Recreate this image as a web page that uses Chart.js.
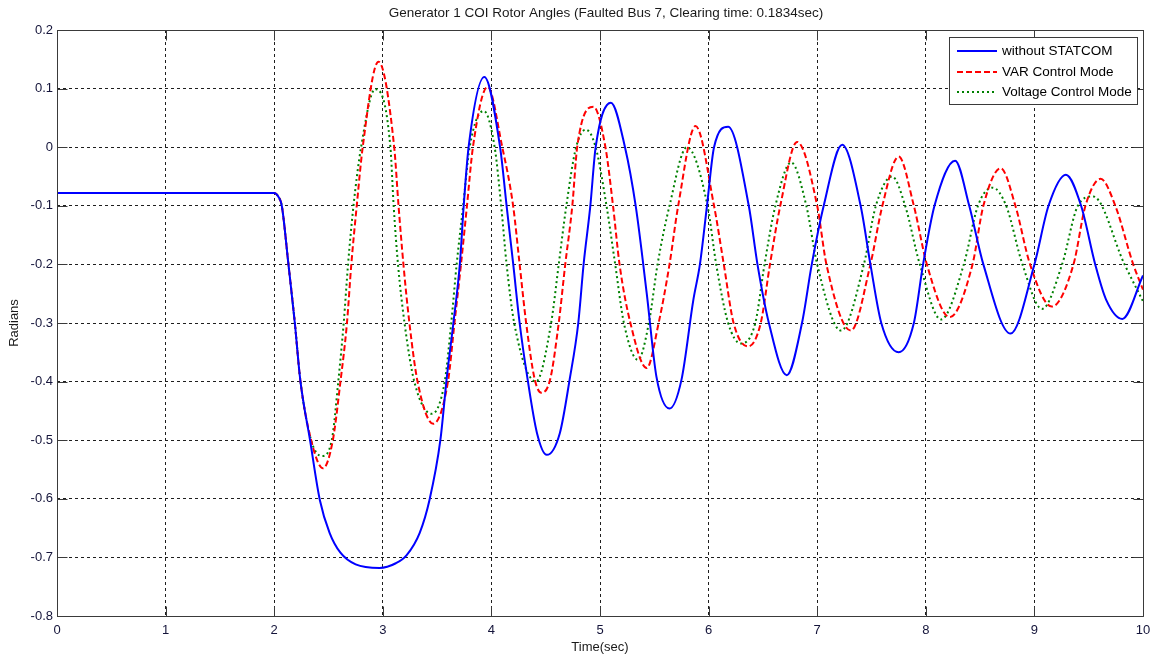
<!DOCTYPE html>
<html>
<head>
<meta charset="utf-8">
<script src="https://cdn.jsdelivr.net/npm/chart.js@4.4.1/dist/chart.umd.min.js"></script>
<style>
  html, body { margin: 0; padding: 0; background: #ffffff; }
  #wrap { width: 1158px; height: 661px; }
</style>
</head>
<body>
<div id="wrap"><canvas id="c" width="1158" height="661"></canvas></div>
<script>
// ---------- data ----------
const chartTitle = 'Generator 1 COI Rotor Angles (Faulted Bus 7, Clearing time: 0.1834sec)';
const xAxisTitle = 'Time(sec)';
const yAxisTitle = 'Radians';
const seriesNames = ['without STATCOM', 'VAR Control Mode', 'Voltage Control Mode'];
const xTickValues = [0, 1, 2, 3, 4, 5, 6, 7, 8, 9, 10];
const yTickValues = [0.2, 0.1, 0, -0.1, -0.2, -0.3, -0.4, -0.5, -0.6, -0.7, -0.8];

const timeNoStatcom = [0, 2.0, 2.04, 2.07, 2.13, 2.19, 2.24, 2.33, 2.42, 2.51, 2.61, 2.75, 2.97, 3.12, 3.22,
  3.34, 3.43, 3.53, 3.59, 3.65, 3.71, 3.745, 3.79, 3.935, 4.08, 4.14, 4.20, 4.26, 4.33, 4.42, 4.51,
  4.63, 4.72, 4.80, 4.85, 4.91, 4.96, 5.10, 5.23, 5.33, 5.43, 5.52, 5.64, 5.75, 5.86, 5.92, 5.985,
  6.05, 6.18, 6.37, 6.45, 6.555, 6.72, 6.86, 6.95, 7.06, 7.23, 7.40, 7.49, 7.59, 7.75, 7.89, 7.975,
  8.08, 8.27, 8.40, 8.53, 8.78, 9.0, 9.13, 9.29, 9.43, 9.56, 9.66, 9.81, 10];
const angleNoStatcom = [-0.078, -0.078, -0.085, -0.10, -0.198, -0.30, -0.397, -0.50, -0.602, -0.658, -0.692, -0.712, -0.718, -0.71, -0.696,
  -0.658, -0.602, -0.50, -0.392, -0.30, -0.198, -0.10, 0, 0.120, 0, -0.10, -0.198, -0.30, -0.392, -0.488, -0.525,
  -0.488, -0.397, -0.30, -0.198, -0.102, 0, 0.076, 0, -0.102, -0.249, -0.392, -0.446, -0.397, -0.26, -0.20, -0.10,
  0, 0.035, -0.10, -0.20, -0.30, -0.389, -0.30, -0.20, -0.10, 0.004, -0.10, -0.20, -0.30, -0.350, -0.30, -0.20,
  -0.10, -0.023, -0.10, -0.20, -0.318, -0.20, -0.10, -0.047, -0.10, -0.20, -0.26, -0.293, -0.219];

const timeVarMode = [0, 2.0, 2.04, 2.07, 2.13, 2.19, 2.24, 2.34, 2.45, 2.54, 2.61, 2.67, 2.71, 2.76, 2.815,
  2.96, 3.105, 3.145, 3.19, 3.245, 3.32, 3.465, 3.60, 3.66, 3.72, 3.775, 3.83, 3.965, 4.10, 4.20, 4.26,
  4.32, 4.40, 4.46, 4.54, 4.62, 4.68, 4.745, 4.79, 4.94, 5.05, 5.12, 5.18, 5.28, 5.43, 5.54, 5.64,
  5.72, 5.88, 6.05, 6.14, 6.23, 6.365, 6.48, 6.565, 6.66, 6.815, 7.0, 7.085, 7.31, 7.49, 7.60, 7.75,
  7.89, 8.01, 8.22, 8.43, 8.53, 8.69, 8.825, 8.96, 9.16, 9.36, 9.47, 9.61, 9.745, 9.91, 10];
const angleVarMode = [-0.078, -0.078, -0.085, -0.10, -0.198, -0.30, -0.397, -0.50, -0.548, -0.50, -0.40, -0.30, -0.20, -0.10, 0,
  0.146, 0, -0.10, -0.20, -0.30, -0.40, -0.472, -0.40, -0.30, -0.20, -0.10, 0, 0.103, 0, -0.10, -0.20,
  -0.30, -0.397, -0.419, -0.397, -0.30, -0.20, -0.10, 0, 0.069, 0, -0.10, -0.20, -0.30, -0.377, -0.30, -0.20,
  -0.10, 0.036, -0.10, -0.20, -0.30, -0.340, -0.30, -0.20, -0.10, 0.009, -0.10, -0.20, -0.313, -0.20, -0.10, -0.016,
  -0.10, -0.20, -0.290, -0.20, -0.10, -0.036, -0.10, -0.20, -0.272, -0.20, -0.10, -0.054, -0.10, -0.20, -0.243];

const timeVoltageMode = [0, 2.0, 2.04, 2.07, 2.13, 2.19, 2.24, 2.34, 2.44, 2.53, 2.59, 2.64, 2.68, 2.73, 2.80,
  2.93, 3.07, 3.10, 3.14, 3.20, 3.29, 3.45, 3.57, 3.63, 3.68, 3.74, 3.80, 3.93, 4.03, 4.09, 4.14,
  4.21, 4.41, 4.55, 4.62, 4.69, 4.78, 4.87, 4.96, 5.06, 5.14, 5.22, 5.35, 5.45, 5.53, 5.64, 5.80,
  5.99, 6.07, 6.18, 6.295, 6.43, 6.515, 6.615, 6.76, 6.90, 7.0, 7.22, 7.43, 7.54, 7.69, 7.81, 7.945,
  8.14, 8.35, 8.48, 8.615, 8.74, 8.89, 9.07, 9.255, 9.40, 9.54, 9.83, 10];
const angleVoltageMode = [-0.078, -0.078, -0.085, -0.10, -0.198, -0.30, -0.397, -0.50, -0.527, -0.50, -0.40, -0.30, -0.20, -0.10, 0,
  0.099, 0, -0.10, -0.20, -0.30, -0.40, -0.455, -0.40, -0.30, -0.20, -0.10, 0, 0.062, 0, -0.10, -0.20,
  -0.30, -0.400, -0.30, -0.20, -0.10, 0, 0.030, 0, -0.10, -0.20, -0.30, -0.363, -0.30, -0.20, -0.10, 0.0,
  -0.10, -0.20, -0.30, -0.335, -0.30, -0.20, -0.10, -0.026, -0.10, -0.20, -0.313, -0.20, -0.10, -0.050, -0.10, -0.20,
  -0.294, -0.20, -0.10, -0.069, -0.10, -0.20, -0.276, -0.20, -0.10, -0.084, -0.20, -0.263];

// ---------- helpers ----------
function toPoints(ts, vs) { return ts.map((t, i) => ({ x: t, y: vs[i] })); }
const FONT = "'Liberation Sans', Arial, Helvetica, sans-serif";
const TICK_COLOR = '#14143a';

const titlePlugin = {
  id: 'matlabTitle',
  afterDraw(chart) {
    const { ctx } = chart;
    ctx.save();
    ctx.fillStyle = '#1a1a1a';
    ctx.font = '13.5px ' + FONT;
    ctx.textAlign = 'center';
    ctx.textBaseline = 'middle';
    ctx.fillText(chartTitle, 606, 13);
    ctx.restore();
  }
};

const framePlugin = {
  id: 'matlabFrame',
  afterDatasetsDraw(chart) {
    const { ctx, chartArea: a, scales } = chart;
    const xs = scales.x, ys = scales.y;
    ctx.save();
    ctx.setLineDash([]);
    ctx.strokeStyle = '#3a3a3a';
    ctx.lineWidth = 1;
    const L = Math.round(a.left) + 0.5, R = Math.round(a.right) + 0.5;
    const T = Math.round(a.top) + 0.5, B = Math.round(a.bottom) + 0.5;
    ctx.beginPath();
    ctx.rect(L, T, R - L, B - T);
    const len = 10;
    xTickValues.forEach(v => {
      const px = Math.round(xs.getPixelForValue(v)) + 0.5;
      ctx.moveTo(px, B); ctx.lineTo(px, B - len);
      ctx.moveTo(px, T); ctx.lineTo(px, T + len);
    });
    yTickValues.forEach(v => {
      const py = Math.round(ys.getPixelForValue(v)) + 0.5;
      ctx.moveTo(L, py); ctx.lineTo(L + len, py);
      ctx.moveTo(R, py); ctx.lineTo(R - len, py);
    });
    ctx.stroke();
    ctx.restore();
  }
};

const legendPlugin = {
  id: 'matlabLegend',
  afterDraw(chart) {
    const { ctx } = chart;
    const bx = 949.5, by = 37.5, bw = 188, bh = 67;
    ctx.save();
    ctx.fillStyle = '#ffffff';
    ctx.fillRect(bx, by, bw, bh);
    ctx.strokeStyle = '#3a3a3a';
    ctx.lineWidth = 1;
    ctx.setLineDash([]);
    ctx.strokeRect(bx, by, bw, bh);
    const rows = [51, 72, 92];
    chart.data.datasets.forEach((ds, i) => {
      const y = rows[i];
      ctx.strokeStyle = ds.borderColor;
      ctx.lineWidth = ds.borderWidth;
      ctx.setLineDash(ds.borderDash || []);
      ctx.beginPath();
      ctx.moveTo(957, y); ctx.lineTo(997, y);
      ctx.stroke();
      ctx.setLineDash([]);
      ctx.fillStyle = '#000000';
      ctx.font = '13.5px ' + FONT;
      ctx.textBaseline = 'middle';
      ctx.textAlign = 'left';
      ctx.fillText(ds.label, 1002, y);
    });
    ctx.restore();
  }
};

const commonLine = { pointRadius: 0, pointHoverRadius: 0, fill: false, cubicInterpolationMode: 'monotone', tension: 0.4 };

new Chart(document.getElementById('c'), {
  type: 'line',
  data: {
    datasets: [
      Object.assign({ label: seriesNames[0], data: toPoints(timeNoStatcom, angleNoStatcom), borderColor: '#0000ff', borderWidth: 2, borderDash: [] }, commonLine),
      Object.assign({ label: seriesNames[1], data: toPoints(timeVarMode, angleVarMode), borderColor: '#ff0000', borderWidth: 2, borderDash: [6, 3] }, commonLine),
      Object.assign({ label: seriesNames[2], data: toPoints(timeVoltageMode, angleVoltageMode), borderColor: '#008000', borderWidth: 2, borderDash: [2, 3] }, commonLine)
    ]
  },
  options: {
    responsive: false,
    animation: false,
    devicePixelRatio: 1,
    events: [],
    layout: { padding: { left: 0, right: 15, top: 30, bottom: 0 } },
    plugins: {
      legend: { display: false },
      tooltip: { enabled: false },
      title: { display: false }
    },
    scales: {
      x: {
        type: 'linear',
        min: 0, max: 10,
        afterBuildTicks: s => { s.ticks = xTickValues.map(v => ({ value: v })); },
        afterFit: s => { s.height = 45; },
        ticks: { color: TICK_COLOR, font: { family: FONT, size: 13 }, padding: 7, maxRotation: 0, autoSkip: false,
                 callback: v => String(v) },
        grid: { color: '#1e1e1e', lineWidth: 1, drawTicks: false },
        border: { display: false, dash: [3, 3] },
        title: { display: true, text: xAxisTitle, color: '#1a1a1a', font: { family: FONT, size: 13 }, padding: { top: 0, bottom: 5.5 } }
      },
      y: {
        type: 'linear',
        min: -0.8, max: 0.2,
        afterBuildTicks: s => { s.ticks = yTickValues.map(v => ({ value: v })); },
        afterFit: s => { s.width = 57; },
        ticks: { color: TICK_COLOR, font: { family: FONT, size: 13 }, padding: 4, autoSkip: false,
                 callback: v => String(Math.round(v * 10) / 10) },
        grid: { color: '#1e1e1e', lineWidth: 1, drawTicks: false },
        border: { display: false, dash: [3, 3] },
        title: { display: true, text: yAxisTitle, color: '#1a1a1a', font: { family: FONT, size: 13 }, padding: { top: 7, bottom: 0 } }
      }
    }
  },
  plugins: [framePlugin, legendPlugin, titlePlugin]
});
</script>
</body>
</html>
